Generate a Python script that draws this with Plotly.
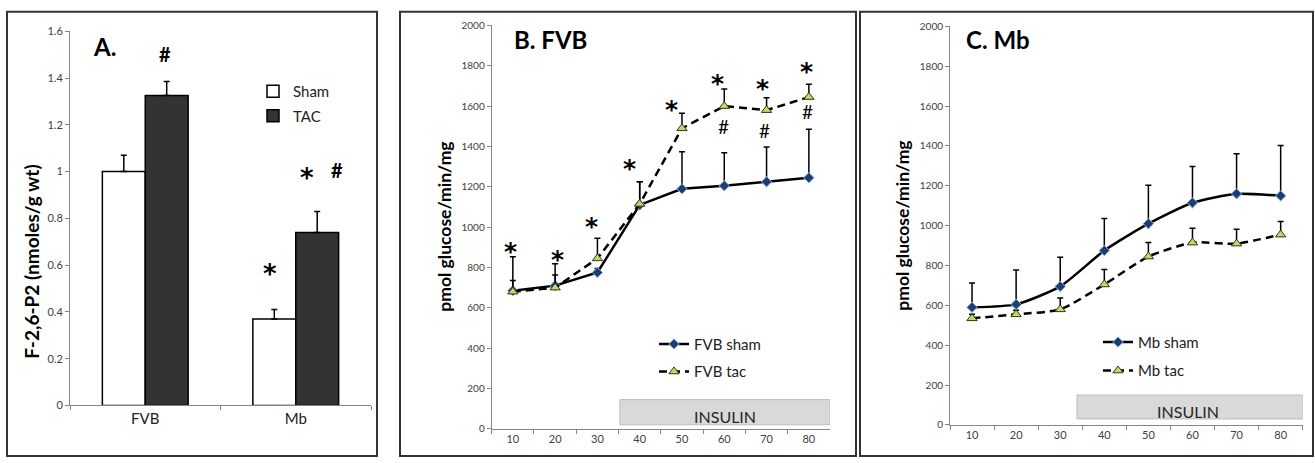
import plotly.graph_objects as go

# ---------------- data ----------------
# Panel A
groups_A = ["FVB", "Mb"]
sham_A = [1.00, 0.37]
sham_A_err = [0.07, 0.04]
tac_A = [1.325, 0.74]
tac_A_err = [0.06, 0.09]

# Panel B (FVB)
minutes = ["10", "20", "30", "40", "50", "60", "70", "80"]
fvb_sham = [685, 710, 775, 1110, 1190, 1205, 1225, 1245]
fvb_sham_err = [168, 108, 20, 115, 184, 164, 173, 240]
fvb_tac = [680, 700, 845, 1115, 1490, 1600, 1580, 1645]
fvb_tac_err = [55, 63, 100, 110, 75, 85, 62, 64]

# Panel C (Mb)
mb_sham = [590, 605, 695, 875, 1010, 1115, 1160, 1150]
mb_sham_err = [122, 172, 146, 161, 193, 182, 201, 252]
mb_tac = [535, 555, 580, 705, 845, 915, 910, 955]
mb_tac_err = [20, 20, 57, 75, 70, 72, 72, 66]

# significance labels (category index, y position)
star_B_x = [-0.05, 1.06, 1.86, 2.75, 3.76, 4.84, 5.91, 6.95]
star_B_y = [920, 877, 1041, 1330, 1624, 1754, 1725, 1812]
hash_B_x = [4.97, 5.94, 6.97]
hash_B_y = [1499, 1480, 1571]

W, H = 1315, 463
FONT = "Lato"
STAR_FONT = "DejaVu Sans"


def px(x):
    return x / W


def py(y):
    return 1 - y / H


fig = go.Figure()

# ---------------- Panel A bars ----------------
fig.add_trace(go.Bar(
    x=groups_A, y=sham_A, name="Sham", xaxis="x", yaxis="y",
    marker=dict(color="white", line=dict(color="black", width=1.5)),
    error_y=dict(type="data", symmetric=False, array=sham_A_err,
                 arrayminus=[0] * len(sham_A), color="black", thickness=1.5, width=3),
    legend="legend", legendgroup="a1",
))
fig.add_trace(go.Bar(
    x=groups_A, y=tac_A, name="TAC", xaxis="x", yaxis="y",
    marker=dict(color="#333333", line=dict(color="black", width=1.5)),
    error_y=dict(type="data", symmetric=False, array=tac_A_err,
                 arrayminus=[0] * len(tac_A), color="black", thickness=1.5, width=3),
    legend="legend", legendgroup="a2",
))

sham_marker = dict(symbol="diamond", size=8, color="#1f3b70", line=dict(color="#8db3e2", width=1))
tac_marker = dict(symbol="triangle-up", size=9, color="#c4d76b", line=dict(color="#2f3a12", width=1))


def err(arr):
    return dict(type="data", symmetric=False, array=arr, arrayminus=[0] * len(arr),
                color="black", thickness=1.5, width=3)


# ---------------- Panel B ----------------
fig.add_trace(go.Scatter(
    x=minutes, y=fvb_sham, name="FVB sham", mode="lines+markers", xaxis="x2", yaxis="y2",
    line=dict(color="black", width=2.5), marker=sham_marker, error_y=err(fvb_sham_err),
    legend="legend2", legendgroup="b1",
))
fig.add_trace(go.Scatter(
    x=minutes, y=fvb_tac, name="FVB tac", mode="lines+markers", xaxis="x2", yaxis="y2",
    line=dict(color="black", width=2.5, dash="8px,5px"), marker=tac_marker, error_y=err(fvb_tac_err),
    legend="legend2", legendgroup="b2",
))

# ---------------- Panel C ----------------
fig.add_trace(go.Scatter(
    x=minutes, y=mb_sham, name="Mb sham", mode="lines+markers", xaxis="x3", yaxis="y3",
    line=dict(color="black", width=2.5, shape="spline", smoothing=0.6), marker=sham_marker,
    error_y=err(mb_sham_err), legend="legend3", legendgroup="c1",
))
fig.add_trace(go.Scatter(
    x=minutes, y=mb_tac, name="Mb tac", mode="lines+markers", xaxis="x3", yaxis="y3",
    line=dict(color="black", width=2.5, dash="8px,5px", shape="spline", smoothing=0.6),
    marker=tac_marker, error_y=err(mb_tac_err), legend="legend3", legendgroup="c2",
))

axis_common = dict(showline=True, linecolor="#868686", linewidth=1, ticks="outside",
                   ticklen=4, tickcolor="#868686", showgrid=False, zeroline=False,
                   tickfont=dict(family=FONT, size=11, color="#404040"))

fig.update_layout(
    width=W, height=H, margin=dict(l=0, r=0, t=0, b=0),
    paper_bgcolor="white", plot_bgcolor="white",
    font=dict(family=FONT, color="black"),
    barmode="group", bargap=0.43, bargroupgap=0,
    showlegend=True,
    xaxis=dict(axis_common, domain=[px(70), px(371)], anchor="y", type="category",
               tickson="boundaries", range=[-0.5, 1.5],
               tickfont=dict(family=FONT, size=15, color="#222222")),
    yaxis=dict(axis_common, domain=[py(410), py(25)], anchor="x", range=[0, 1.6], dtick=0.2,
               tickfont=dict(family=FONT, size=11, color="#404040")),
    xaxis2=dict(axis_common, domain=[px(491.7), px(830)], anchor="y2", type="category",
                tickson="boundaries", range=[-0.5, 7.5]),
    yaxis2=dict(axis_common, domain=[py(434), py(19)], anchor="x2", range=[0, 2000], dtick=200,
                tickfont=dict(family=FONT, size=10, color="#404040")),
    xaxis3=dict(axis_common, domain=[px(950), px(1302.7)], anchor="y3", type="category",
                tickson="boundaries", range=[-0.5, 7.5]),
    yaxis3=dict(axis_common, domain=[py(430), py(20)], anchor="x3", range=[0, 2000], dtick=200,
                tickfont=dict(family=FONT, size=10, color="#404040")),
    legend=dict(x=px(253), y=py(70), xanchor="left", yanchor="top", bgcolor="rgba(0,0,0,0)",
                font=dict(family=FONT, size=15, color="#222222"), itemwidth=30,
                traceorder="grouped", tracegroupgap=2),
    legend2=dict(x=px(654), y=py(330), xanchor="left", yanchor="top", bgcolor="rgba(0,0,0,0)",
                 font=dict(family=FONT, size=15, color="#222222"), itemwidth=30,
                 traceorder="grouped", tracegroupgap=5),
    legend3=dict(x=px(1098), y=py(328), xanchor="left", yanchor="top", bgcolor="rgba(0,0,0,0)",
                 font=dict(family=FONT, size=15, color="#222222"), itemwidth=30,
                 traceorder="grouped", tracegroupgap=6),
)

shapes = []
# panel borders
for (x0, x1) in [(7, 377), (400, 856), (860, 1313)]:
    shapes.append(dict(type="rect", xref="paper", yref="paper", x0=px(x0), x1=px(x1),
                       y0=py(462), y1=py(5), line=dict(color="#333333", width=2),
                       fillcolor="rgba(0,0,0,0)", layer="below"))
# insulin boxes
insulin_B = (2.53, 7.5, 20, 145)
insulin_C = (2.38, 7.5, 30, 150)
for ax, box in [("2", insulin_B), ("3", insulin_C)]:
    shapes.append(dict(type="rect", xref="x" + ax, yref="y" + ax, x0=box[0], x1=box[1],
                       y0=box[2], y1=box[3], fillcolor="#d9d9d9",
                       line=dict(color="#bdbdbd", width=1), layer="below"))
fig.update_layout(shapes=shapes)

ann = []
# panel titles
ann.append(dict(text="<b>A.</b>", xref="paper", yref="paper", x=px(91), y=py(41),
                xanchor="left", yanchor="middle", showarrow=False,
                font=dict(family=FONT, size=24, color="black")))
ann.append(dict(text="<b>B. FVB</b>", xref="paper", yref="paper", x=px(512), y=py(33),
                xanchor="left", yanchor="middle", showarrow=False,
                font=dict(family=FONT, size=24, color="black")))
ann.append(dict(text="<b>C. Mb</b>", xref="paper", yref="paper", x=px(964), y=py(33),
                xanchor="left", yanchor="middle", showarrow=False,
                font=dict(family=FONT, size=24, color="black")))
# y-axis titles
for xc, yc, txt, fs in [(32, 262, "F-2,6-P2 (nmoles/g wt)", 19),
                        (445, 226, "pmol glucose/min/mg", 17.5),
                        (903, 225, "pmol glucose/min/mg", 17.5)]:
    ann.append(dict(text="<b>" + txt + "</b>", xref="paper", yref="paper", x=px(xc), y=py(yc),
                    xanchor="center", yanchor="middle", textangle=-90, showarrow=False,
                    font=dict(family=FONT, size=fs, color="black")))
# INSULIN labels
ann.append(dict(text="INSULIN", xref="x2", yref="y2", x=(insulin_B[0] + insulin_B[1]) / 2, y=80,
                yshift=-4, showarrow=False, font=dict(family=FONT, size=16, color="#262626")))
ann.append(dict(text="INSULIN", xref="x3", yref="y3", x=4.9, y=88,
                yshift=-4, showarrow=False, font=dict(family=FONT, size=16, color="#262626")))

# significance marks panel A
sig_A = [("#", 0.13, 1.505), ("*", 0.832, 0.595), ("*", 1.073, 1.006), ("#", 1.272, 1.006)]
for s, xv, yv in sig_A:
    if s == "*":
        ann.append(dict(text="<b>*</b>", xref="x", yref="y", x=xv, y=yv, showarrow=False,
                        yanchor="middle", yshift=-8,
                        font=dict(family=STAR_FONT, size=26, color="black")))
    else:
        ann.append(dict(text="<b>#</b>", xref="x", yref="y", x=xv, y=yv, showarrow=False,
                        yanchor="middle", font=dict(family=FONT, size=20, color="black")))
# panel B
for xv, yv in zip(star_B_x, star_B_y):
    ann.append(dict(text="<b>*</b>", xref="x2", yref="y2", x=xv, y=yv, showarrow=False,
                    yanchor="middle", yshift=-8,
                    font=dict(family=STAR_FONT, size=25, color="black")))
for xv, yv in zip(hash_B_x, hash_B_y):
    ann.append(dict(text="#", xref="x2", yref="y2", x=xv, y=yv, showarrow=False,
                    yanchor="middle", font=dict(family=FONT, size=19, color="black")))
fig.update_layout(annotations=ann)

fig.write_html("out.html")
